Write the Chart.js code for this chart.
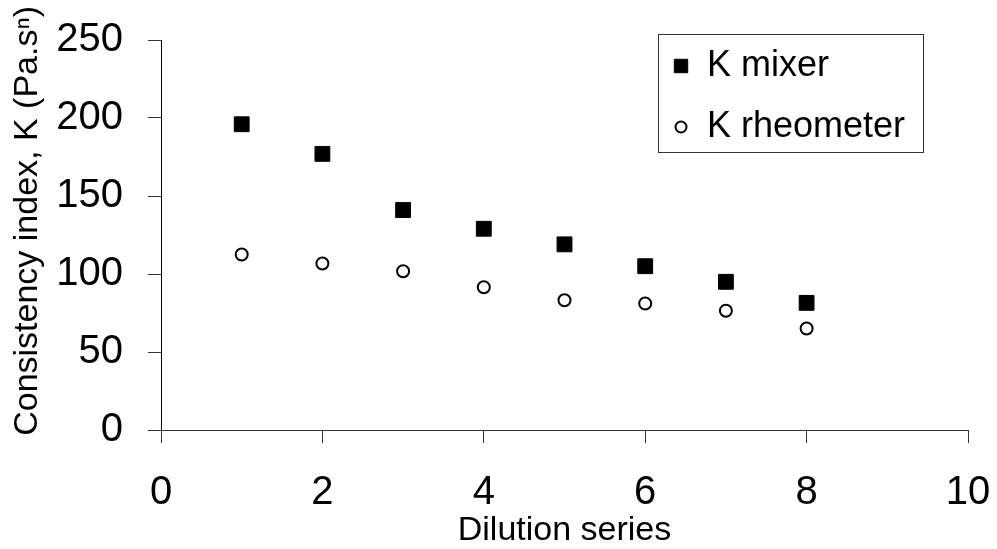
<!DOCTYPE html>
<html>
<head>
<meta charset="utf-8">
<script src="https://cdn.jsdelivr.net/npm/chart.js@4/dist/chart.umd.min.js"></script>
<style>
  html, body { margin: 0; padding: 0; background: #fff; }
  #wrap { width: 997px; height: 549px; }
</style>
</head>
<body>
<div id="wrap"><canvas id="kChart" width="997" height="549"></canvas></div>
<script>
  /* -------------------------------------------------------
   DATA: dilution series vs consistency index K
  ------------------------------------------------------- */
  const dilution = [1, 2, 3, 4, 5, 6, 7, 8];
  const kMixer = [196, 177, 141, 129, 119, 105, 95, 81.5];
  const kRheometer = [112.5, 106.7, 101.8, 91.5, 83.2, 81.1, 76.4, 65.1];
  const seriesLabels = ["K mixer", "K rheometer"];

  Chart.defaults.font.family = "'Liberation Sans', Arial, sans-serif";
  Chart.defaults.color = "#000";

  /* drop the label overhang padding so the plot area sits where the original does */
  function noPad(s) {
    s.paddingTop = 0;
    s.paddingBottom = 0;
    s.paddingLeft = 0;
    s.paddingRight = 0;
  }

  /* custom boxed legend, drawn top right like the original */
  const boxLegend = {
    id: "boxLegend",
    afterDraw(chart) {
      const ctx = chart.ctx;
      ctx.save();
      ctx.fillStyle = "#fff";
      ctx.strokeStyle = "#333";
      ctx.lineWidth = 1;
      ctx.fillRect(658.5, 34.5, 265, 118);
      ctx.strokeRect(658.5, 34.5, 265, 118);
      const rows = [66, 127];
      chart.data.datasets.forEach((ds, i) => {
        ctx.fillStyle = ds.backgroundColor;
        ctx.strokeStyle = ds.borderColor;
        ctx.lineWidth = ds.borderWidth;
        Chart.helpers.drawPoint(ctx, {
          pointStyle: ds.pointStyle,
          radius: ds.pointStyle === "rect" ? 9.5 : 5.5,
          rotation: 0,
          borderWidth: ds.borderWidth,
        }, 681, rows[i]);
        ctx.fillStyle = "#000";
        ctx.font = "36px 'Liberation Sans', Arial, sans-serif";
        ctx.textBaseline = "middle";
        ctx.textAlign = "left";
        ctx.fillText(ds.label, 707, rows[i]);
      });
      ctx.restore();
    },
  };

  new Chart(document.getElementById("kChart"), {
    type: "scatter",
    data: {
      datasets: [
        {
          label: seriesLabels[0],
          data: dilution.map((x, i) => ({ x: x, y: kMixer[i] })),
          pointStyle: "rect",
          pointRadius: 10.5,
          backgroundColor: "#000",
          borderColor: "#000",
          borderWidth: 1,
        },
        {
          label: seriesLabels[1],
          data: dilution.map((x, i) => ({ x: x, y: kRheometer[i] })),
          pointStyle: "circle",
          pointRadius: 6,
          backgroundColor: "#fff",
          borderColor: "#000",
          borderWidth: 2,
        },
      ],
    },
    options: {
      responsive: false,
      animation: false,
      layout: { padding: { top: 40, right: 29, bottom: 0, left: 0 } },
      plugins: {
        legend: { display: false },
        tooltip: { enabled: false },
      },
      scales: {
        x: {
          type: "linear",
          min: 0,
          max: 10,
          afterFit: (s) => { s.height = 119; noPad(s); },
          ticks: { stepSize: 2, padding: 26, font: { size: 40 }, color: "#000" },
          grid: { display: true, drawOnChartArea: false, tickLength: 13, color: "#333" },
          border: { display: true, color: "#333" },
          title: {
            display: true,
            text: "Dilution series",
            font: { size: 34, lineHeight: 1.1 },
            color: "#000",
            padding: 0,
          },
        },
        y: {
          min: 0,
          max: 250,
          afterFit: (s) => { s.width = 161; noPad(s); },
          ticks: { stepSize: 50, padding: 25, font: { size: 40 }, color: "#000" },
          grid: { display: true, drawOnChartArea: false, tickLength: 13, color: "#333" },
          border: { display: true, color: "#000" },
          title: {
            display: true,
            text: "   Consistency index, K (Pa.sⁿ)",
            font: { size: 34, lineHeight: 1.2 },
            color: "#000",
            padding: { top: 7, bottom: 0 },
          },
        },
      },
    },
    plugins: [boxLegend],
  });
</script>
</body>
</html>
